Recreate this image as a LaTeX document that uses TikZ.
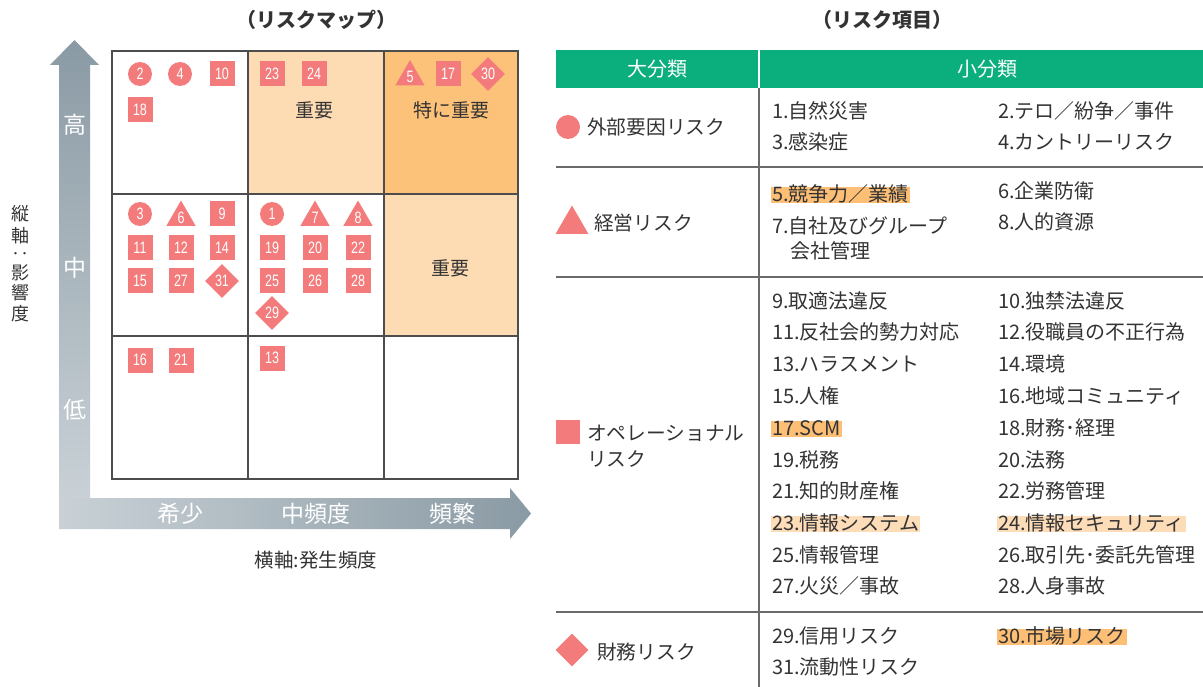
\documentclass[tikz,border=0pt]{standalone}
\usepackage{fontspec}
\setmainfont{Noto Sans CJK JP}
\newfontfamily\numfont[FakeStretch=0.76]{Liberation Sans}
\usetikzlibrary{shapes.geometric}
\definecolor{mk}{HTML}{F47B7B}
\definecolor{cellA}{HTML}{FDC27A}
\definecolor{cellB}{HTML}{FDDBB3}
\definecolor{hlA}{HTML}{FDBE75}
\definecolor{hlB}{HTML}{FDDCB8}
\definecolor{grn}{HTML}{0BAE7D}
\definecolor{txt}{HTML}{333333}
\definecolor{gline}{HTML}{4D4D4D}
\definecolor{tline}{HTML}{6A6A6A}
\definecolor{axdark}{HTML}{8A9AA4}
\definecolor{axlight}{HTML}{C9D1D6}
\begin{document}
\begin{tikzpicture}[x=1pt,y=-1pt,
  markbase/.style={fill=mk, text=white, font=\numfont\fontsize{16.5}{16.5}\selectfont, inner sep=0pt},
  sq/.style={markbase, minimum width=25pt, minimum height=25pt},
  ci/.style={markbase, circle, minimum size=24pt},
  tri/.style={markbase, regular polygon, regular polygon sides=3, minimum size=34pt},
  dia/.style={markbase, diamond, aspect=1, minimum width=34pt, minimum height=34pt},
  gridline/.style={draw=gline, line width=1.5pt},
  tabline/.style={draw=tline, line width=1.3pt},
  cell/.style={text=txt, font=\fontsize{19}{19}\selectfont},
  axlab/.style={text=white, font=\fontsize{23}{23}\selectfont},
  item/.style={anchor=west, text=txt, font=\fontsize{20}{20}\selectfont, inner xsep=1pt, inner ysep=0pt, text height=14.5pt, text depth=2pt},
  itemA/.style={item, fill=hlA},
  itemB/.style={item, fill=hlB},
  cat/.style={anchor=west, text=txt, font=\fontsize{19.7}{19.7}\selectfont, inner sep=0pt},
  ttl/.style={text=txt, font=\fontsize{20}{20}\selectfont\bfseries},
  hdr/.style={text=white, font=\fontsize{20}{20}\selectfont},
  vlab/.style={text=txt, font=\fontsize{18}{18}\selectfont, inner sep=0pt}
]
\useasboundingbox (0,0) rectangle (1203,687);

% ---------- titles
\node[ttl] (t1) at (316,20) {（リスクマップ）};
\node[ttl] (t2) at (882,20) {（リスク項目）};

% ---------- axes
\path[top color=axdark, bottom color=axlight]
  (59,498) -- (59,65) -- (50,65) -- (74.5,40) -- (99,65) -- (90,65) -- (90,498) -- cycle;
\path[left color=axlight, right color=axdark]
  (59,498) -- (510,498) -- (510,488) -- (531,513.5) -- (510,539) -- (510,529) -- (59,529) -- cycle;
\node[axlab] (ah) at (75,125) {高};
\node[axlab] (am) at (75,268) {中};
\node[axlab] (al) at (75,410) {低};
\node[axlab] (x1) at (180,514) {希少};
\node[axlab] (x2) at (316,514) {中頻度};
\node[axlab] (x3) at (452,514) {頻繁};
\node[vlab, font=\fontsize{19.5}{19.5}\selectfont] (xl) at (316,560) {横軸:発生頻度};
\node[vlab] (v1) at (20,214) {縦};
\node[vlab] (v2) at (20,236) {軸};
\node[vlab] (v3) at (20,256) {‥};
\node[vlab] (v4) at (20,273) {影};
\node[vlab] (v5) at (20,293) {響};
\node[vlab] (v6) at (20,314) {度};

% ---------- map grid
\fill[cellB] (248,51) rectangle (384,194);
\fill[cellA] (384,51) rectangle (518,194);
\fill[cellB] (384,194) rectangle (518,336);
\draw[gridline] (112,51) rectangle (518,479);
\draw[gridline] (248,51) -- (248,479);
\draw[gridline] (384,51) -- (384,479);
\draw[gridline] (112,194) -- (518,194);
\draw[gridline] (112,336) -- (518,336);
\node[cell] (c1) at (314,110) {重要};
\node[cell] (c2) at (451,110) {特に重要};
\node[cell] (c3) at (450,268) {重要};

% ---------- markers
\node[ci] (m2) at (140,74) {2};
\node[ci] (m4) at (180,74) {4};
\node[sq] (m10) at (222,74) {10};
\node[sq] (m18) at (140,110) {18};
\node[sq] (m23) at (272,74) {23};
\node[sq] (m24) at (314,74) {24};
\node[tri] (m5) at (410,77) {5};
\node[sq] (m17) at (448,74) {17};
\node[dia] (m30) at (488,74) {30};

\node[ci] (m3) at (140,214) {3};
\node[tri] (m6) at (181,217.5) {6};
\node[sq] (m9) at (222,214) {9};
\node[sq] (m11) at (140,248) {11};
\node[sq] (m12) at (181,248) {12};
\node[sq] (m14) at (222,248) {14};
\node[sq] (m15) at (140,281) {15};
\node[sq] (m27) at (181,281) {27};
\node[dia] (m31) at (222,281) {31};

\node[ci] (m1) at (272,214) {1};
\node[tri] (m7) at (315,217.5) {7};
\node[tri] (m8) at (358,217.5) {8};
\node[sq] (m19) at (272,248) {19};
\node[sq] (m20) at (315,248) {20};
\node[sq] (m22) at (358,248) {22};
\node[sq] (m25) at (272,281) {25};
\node[sq] (m26) at (315,281) {26};
\node[sq] (m28) at (358,281) {28};
\node[dia] (m29) at (272,313) {29};

\node[sq] (m16) at (140,360) {16};
\node[sq] (m21) at (181,360) {21};
\node[sq] (m13) at (272,358) {13};

% ---------- table
\fill[grn] (556,50) rectangle (1203,88);
\draw[white, line width=1.3pt] (759,50) -- (759,88);
\node[hdr] (h1) at (657,69) {大分類};
\node[hdr] (h2) at (987,69) {小分類};
\draw[tabline] (759,88) -- (759,687);
\draw[tabline] (556,167) -- (1203,167);
\draw[tabline] (556,277) -- (1203,277);
\draw[tabline] (556,612) -- (1203,612);

% legend
\node[markbase, circle, minimum size=24pt] (lg1) at (568,127) {};
\node[cat] (k1) at (587,127) {外部要因リスク};
\node[markbase, regular polygon, regular polygon sides=3, minimum size=38pt] (lg2) at (572,224.5) {};
\node[cat] (k2) at (594,223) {経営リスク};
\node[markbase, minimum width=24pt, minimum height=24pt] (lg3) at (568,432) {};
\node[cat] (k3a) at (587,433) {オペレーショナル};
\node[cat] (k3b) at (587,459) {リスク};
\node[markbase, diamond, aspect=1, minimum width=33pt, minimum height=33pt] (lg4) at (572,650) {};
\node[cat] (k4) at (597,652) {財務リスク};

% items
\node[item] (i1) at (771,112) {1.自然災害};
\node[item] (i2) at (997,112) {2.テロ／紛争／事件};
\node[item] (i3) at (771,143) {3.感染症};
\node[item] (i4) at (997,143) {4.カントリーリスク};
\node[itemA] (i5) at (771,195) {5.競争力／業績};
\node[item] (i6) at (997,192) {6.企業防衛};
\node[item] (i7) at (771,227) {7.自社及びグループ};
\node[item] (i7b) at (789,252) {会社管理};
\node[item] (i8) at (997,223) {8.人的資源};

\node[item] (i9) at (771,302) {9.取適法違反};
\node[item] (i10) at (997,302) {10.独禁法違反};
\node[item] (i11) at (771,333) {11.反社会的勢力対応};
\node[item] (i12) at (997,333) {12.役職員の不正行為};
\node[item] (i13) at (771,365) {13.ハラスメント};
\node[item] (i14) at (997,365) {14.環境};
\node[item] (i15) at (771,397) {15.人権};
\node[item] (i16) at (997,397) {16.地域コミュニティ};
\node[itemA] (i17) at (771,429) {17.SCM};
\node[item] (i18) at (997,429) {18.財務･経理};
\node[item] (i19) at (771,461) {19.税務};
\node[item] (i20) at (997,461) {20.法務};
\node[item] (i21) at (771,492) {21.知的財産権};
\node[item] (i22) at (997,492) {22.労務管理};
\node[itemB] (i23) at (771,524) {23.情報システム};
\node[itemB] (i24) at (997,524) {24.情報セキュリティ};
\node[item] (i25) at (771,556) {25.情報管理};
\node[item] (i26) at (997,556) {26.取引先･委託先管理};
\node[item] (i27) at (771,587) {27.火災／事故};
\node[item] (i28) at (997,587) {28.人身事故};

\node[item] (i29) at (771,637) {29.信用リスク};
\node[itemA] (i30) at (997,637) {30.市場リスク};
\node[item] (i31) at (771,668) {31.流動性リスク};
\end{tikzpicture}
\end{document}
